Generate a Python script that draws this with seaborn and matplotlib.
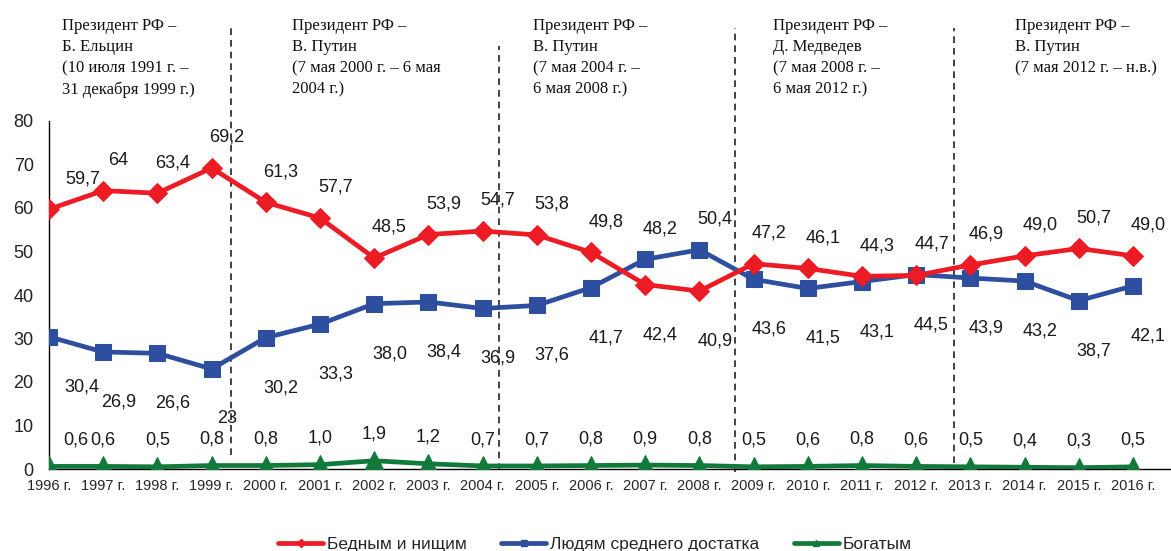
import numpy as np
import pandas as pd
import matplotlib
matplotlib.use("Agg")
import matplotlib.pyplot as plt
import matplotlib.transforms as mtransforms
from matplotlib.lines import Line2D
import seaborn as sns

# data
years = [1996, 1997, 1998, 1999, 2000, 2001, 2002, 2003, 2004, 2005, 2006,
         2007, 2008, 2009, 2010, 2011, 2012, 2013, 2014, 2015, 2016]
year_labels = [f"{y} г." for y in years]

poor = [59.7, 64, 63.4, 69.2, 61.3, 57.7, 48.5, 53.9, 54.7, 53.8, 49.8,
        42.4, 40.9, 47.2, 46.1, 44.3, 44.5, 46.9, 49.0, 50.7, 49.0]
middle = [30.4, 26.9, 26.6, 23, 30.2, 33.3, 38.0, 38.4, 36.9, 37.6, 41.7,
          48.2, 50.4, 43.6, 41.5, 43.1, 44.7, 43.9, 43.2, 38.7, 42.1]
rich = [0.6, 0.6, 0.5, 0.8, 0.8, 1.0, 1.9, 1.2, 0.7, 0.7, 0.8,
        0.9, 0.8, 0.5, 0.6, 0.8, 0.6, 0.5, 0.4, 0.3, 0.5]

poor_txt = ["59,7", "64", "63,4", "69,2", "61,3", "57,7", "48,5", "53,9", "54,7", "53,8", "49,8",
            "42,4", "40,9", "47,2", "46,1", "44,3", "44,5", "46,9", "49,0", "50,7", "49,0"]
middle_txt = ["30,4", "26,9", "26,6", "23", "30,2", "33,3", "38,0", "38,4", "36,9", "37,6", "41,7",
              "48,2", "50,4", "43,6", "41,5", "43,1", "44,7", "43,9", "43,2", "38,7", "42,1"]
rich_txt = ["0,6", "0,6", "0,5", "0,8", "0,8", "1,0", "1,9", "1,2", "0,7", "0,7", "0,8",
            "0,9", "0,8", "0,5", "0,6", "0,8", "0,6", "0,5", "0,4", "0,3", "0,5"]

series_names = ["Бедным и нищим", "Людям среднего достатка", "Богатым"]

# presidential terms: boundary (in year units) and caption
term_bounds = [1999.35, 2004.3, 2008.65, 2012.7]
term_text = [
    "Президент РФ –\nБ. Ельцин\n(10 июля 1991 г. –\n31 декабря 1999 г.)",
    "Президент РФ –\nВ. Путин\n(7 мая 2000 г. – 6 мая\n2004 г.)",
    "Президент РФ –\nВ. Путин\n(7 мая 2004 г. –\n6 мая 2008 г.)",
    "Президент РФ –\nД. Медведев\n(7 мая 2008 г. –\n6 мая 2012 г.)",
    "Президент РФ –\nВ. Путин\n(7 мая 2012 г. – н.в.)",
]

df = pd.DataFrame({"x": np.arange(len(years)), "poor": poor, "middle": middle, "rich": rich})

sns.set_style("white")
plt.rcParams["font.family"] = ["Liberation Sans", "DejaVu Sans"]

fig = plt.figure(figsize=(11.71, 5.51), dpi=100)
ax = fig.add_axes([49 / 1171, 1 - 469 / 551, 1 - 49 / 1171, (469 - 121) / 551])

red = "#ED1C24"
blue = "#2E4E9F"
green = "#117A3B"

sns.lineplot(data=df, x="x", y="poor", ax=ax, color=red, lw=3.4, marker="D",
             markersize=10, markeredgecolor=red, zorder=4)
sns.lineplot(data=df, x="x", y="middle", ax=ax, color=blue, lw=3.4, marker="s",
             markersize=12, markeredgecolor=blue, zorder=3)
sns.lineplot(data=df, x="x", y="rich", ax=ax, color=green, lw=3.4, marker="^",
             markersize=15, markeredgecolor=green, zorder=5)

ax.set_xlim(0, 20.7)
ax.set_ylim(0, 80)
ax.set_yticks(range(0, 81, 10))
ax.set_xticks(df["x"])
ax.set_xticklabels(year_labels, fontsize=10.5)
ax.set_xlabel("")
ax.set_ylabel("")
ax.tick_params(axis="y", labelsize=13, length=7, width=1, direction="out", pad=4,
               colors="black", labelcolor="#222222")
ax.tick_params(axis="x", length=0, pad=7)
for s in ["top", "right"]:
    ax.spines[s].set_visible(False)
for s in ["left", "bottom"]:
    ax.spines[s].set_color("black")
    ax.spines[s].set_linewidth(1)
    ax.spines[s].set_zorder(2)

# data labels: the higher of red/blue above, the lower below
lab_kw = dict(fontsize=13, color="#1a1a1a", ha="center", va="center", zorder=6)
for i in range(len(years)):
    dx = 24 if i == 0 else 11
    if poor[i] >= middle[i]:
        hi, hi_t, lo, lo_t = poor[i], poor_txt[i], middle[i], middle_txt[i]
    else:
        hi, hi_t, lo, lo_t = middle[i], middle_txt[i], poor[i], poor_txt[i]
    ax.annotate(hi_t, (i, hi), xytext=(dx, 22), textcoords="offset points", **lab_kw)
    ax.annotate(lo_t, (i, lo), xytext=(dx, -36), textcoords="offset points", **lab_kw)
    ax.annotate(rich_txt[i], (i, rich[i]), xytext=(19 if i == 0 else 0, 19),
                textcoords="offset points", **lab_kw)

# dashed term boundaries, reaching up into the caption area
trans = mtransforms.blended_transform_factory(ax.transData, fig.transFigure)
tops = [1 - 27 / 551, 1 - 46 / 551, 1 - 28 / 551, 1 - 28 / 551]
bots = [1 - 455 / 551, 1 - 470 / 551, 1 - 472 / 551, 1 - 463 / 551]
for b, t, lo in zip(term_bounds, tops, bots):
    xb = b - years[0]
    ax.plot([xb, xb], [lo, t], transform=trans, color="#222222", lw=1.2,
            ls=(0, (4, 3)), clip_on=False, zorder=1)

caption_x = [62, 292, 533, 773, 1015]
for cx, txt in zip(caption_x, term_text):
    fig.text(cx / 1171, 1 - 18 / 551, txt, ha="left", va="top", fontsize=12,
             family="Liberation Serif", linespacing=1.42, color="#111111")

handles = [
    Line2D([], [], color=red, lw=3.4, marker="D", ms=4),
    Line2D([], [], color=blue, lw=3.4, marker="s", ms=5),
    Line2D([], [], color=green, lw=3.4, marker="^", ms=5),
]
fig.legend(handles, series_names, loc="center", bbox_to_anchor=(0.508, 0.012),
           ncol=3, frameon=False, fontsize=12.5, handlelength=2.6, handletextpad=0.2,
           columnspacing=2.0)

fig.savefig("out.png", dpi=100)
